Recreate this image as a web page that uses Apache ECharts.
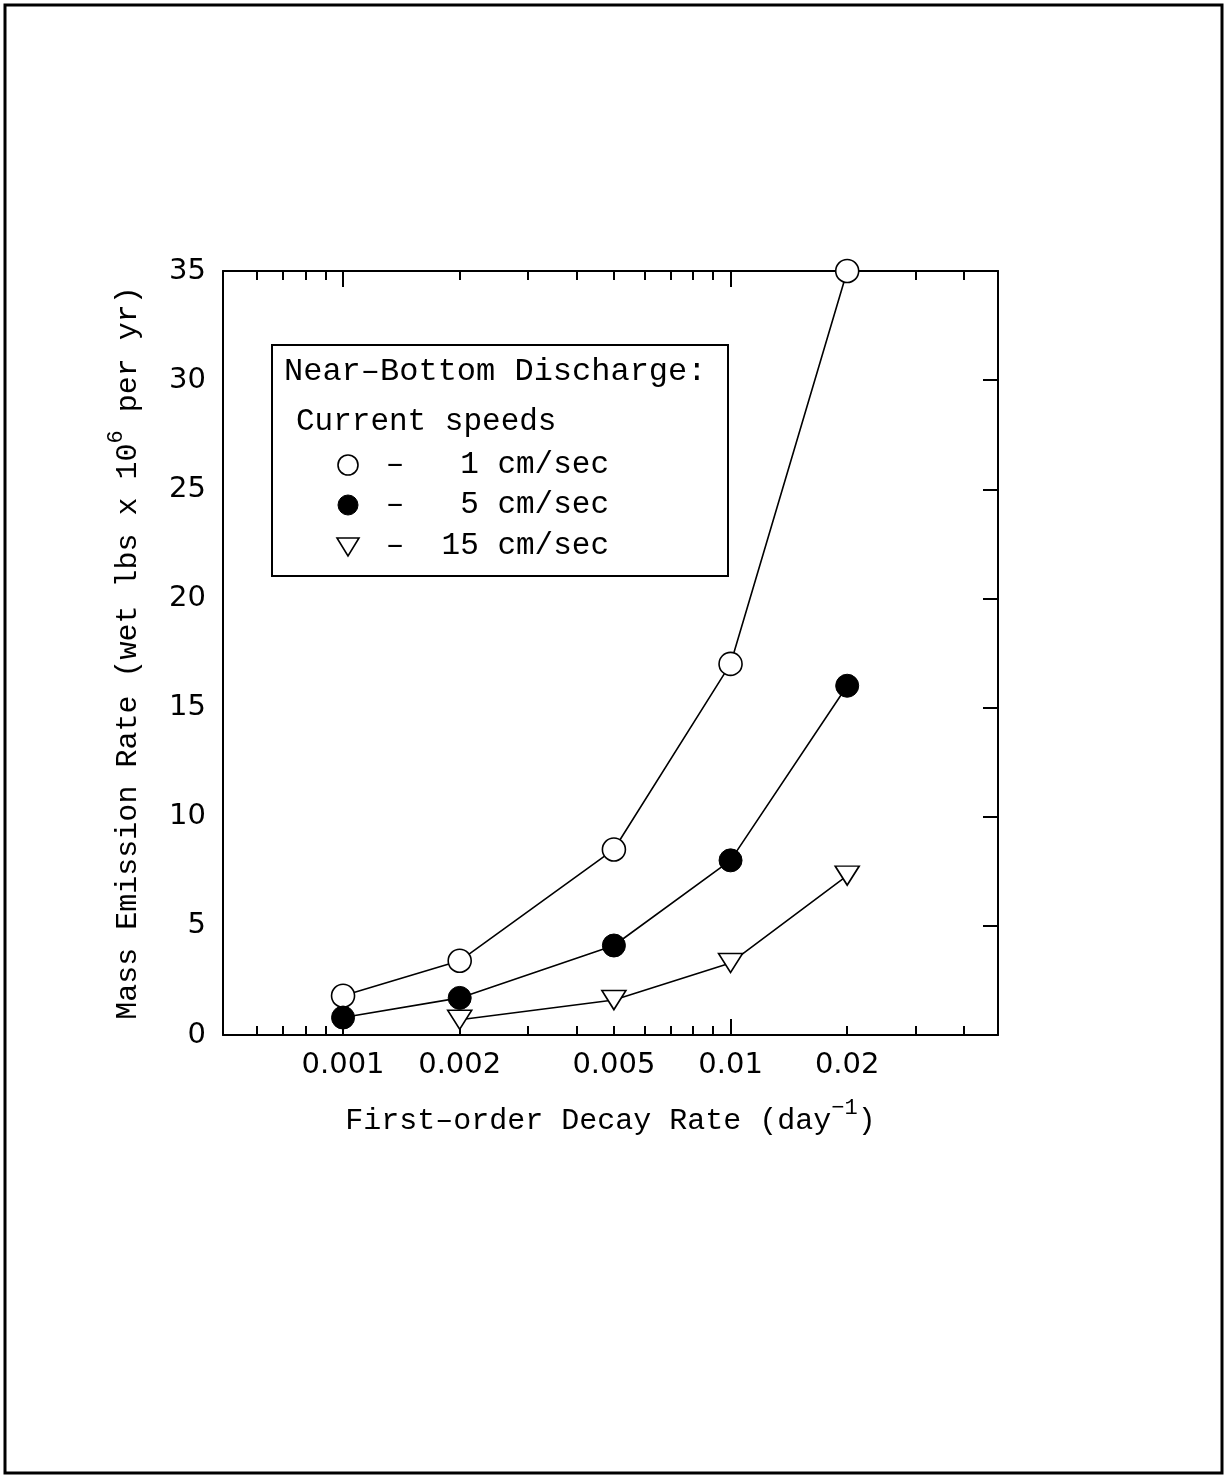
<!DOCTYPE html>
<html>
<head>
<meta charset="utf-8">
<style>
  html, body { margin: 0; padding: 0; background: #fff; }
  #chart { width: 1225px; height: 1476px; }
</style>
<script src="https://cdn.jsdelivr.net/npm/echarts@6.0.0/dist/echarts.min.js"></script>
</head>
<body>
<div id="chart"></div>
<script>
// ---- data ----
const decayRates = [0.001, 0.002, 0.005, 0.01, 0.02];
const speedNames = ['1 cm/sec', '5 cm/sec', '15 cm/sec'];
const speed1 = [1.8, 3.4, 8.5, 17.0, 35.0];
const speed5 = [0.8, 1.7, 4.1, 8.0, 16.0];
const speed15 = [null, 0.7, 1.6, 3.3, 7.3];
const xLabelValues = [0.001, 0.002, 0.005, 0.01, 0.02];
const xMajorTicks = [0.001, 0.01];
const xMinorTicks = [0.0006, 0.0007, 0.0008, 0.0009, 0.002, 0.003, 0.004, 0.005, 0.006, 0.007, 0.008, 0.009, 0.02, 0.03, 0.04];
const legendTitle = 'Near\u2013Bottom Discharge:';
const legendSub = 'Current speeds';

const MONO = '"Liberation Mono", "DejaVu Sans Mono", monospace';
const SANS = '"DejaVu Sans", sans-serif';

function pairs(ys) {
  const out = [];
  decayRates.forEach((x, i) => { if (ys[i] != null) out.push([x, ys[i]]); });
  return out;
}

const chart = echarts.init(document.getElementById('chart'), null, { renderer: 'canvas' });

const grid = { left: 223, top: 271, right: 227, bottom: 441 };
const lineBlack = { color: '#000', width: 2 };

function logAxis(pos, ticks, len, showLine, extra) {
  return Object.assign({
    type: 'log', logBase: 10, position: pos, min: 0.00049, max: 0.049,
    axisLine: { show: showLine, lineStyle: lineBlack },
    axisTick: { show: true, inside: true, length: len, customValues: ticks, lineStyle: { color: '#000', width: 2 } },
    axisLabel: { show: false },
    splitLine: { show: false },
    minorTick: { show: false }
  }, extra || {});
}

const option = {
  animation: false,
  backgroundColor: '#fff',
  grid: grid,
  xAxis: [
    logAxis('bottom', xMajorTicks, 16, true, {
      axisLabel: {
        show: true, customValues: xLabelValues, margin: 16,
        fontFamily: SANS, fontSize: 29, color: '#000',
        formatter: v => String(Number(Number(v).toPrecision(2)))
      },
      name: '{a|First\u2013order Decay Rate (day}{s|\u22121}{a|)}',
      nameLocation: 'middle', nameGap: 62,
      nameTextStyle: {
        rich: {
          a: { fontFamily: MONO, fontSize: 30, color: '#000' },
          s: { fontFamily: MONO, fontSize: 22, color: '#000', padding: [0, 0, 26, 0] }
        }
      }
    }),
    logAxis('bottom', xMinorTicks, 9, false),
    logAxis('top', xMajorTicks, 16, true),
    logAxis('top', xMinorTicks, 9, false)
  ],
  yAxis: [
    {
      type: 'value', position: 'left', min: 0, max: 35, interval: 5,
      axisLine: { show: true, lineStyle: lineBlack },
      axisTick: { show: false },
      axisLabel: { margin: 17, fontFamily: SANS, fontSize: 29, color: '#000' },
      splitLine: { show: false },
      name: '{a|Mass Emission Rate (wet lbs x 10}{s|6}{a| per yr)}',
      nameLocation: 'middle', nameRotate: 90, nameGap: 72,
      nameTextStyle: {
        rich: {
          a: { fontFamily: MONO, fontSize: 30, color: '#000' },
          s: { fontFamily: MONO, fontSize: 22, color: '#000', padding: [0, 0, 24, 0] }
        }
      }
    },
    {
      type: 'value', position: 'right', min: 0, max: 35, interval: 5,
      axisLine: { show: true, lineStyle: lineBlack },
      axisTick: { show: true, inside: true, length: 15, lineStyle: { color: '#000', width: 2 } },
      axisLabel: { show: false },
      splitLine: { show: false }
    }
  ],
  series: [
    {
      name: speedNames[0], type: 'line', xAxisIndex: 0, yAxisIndex: 0,
      data: pairs(speed1), symbol: 'circle', symbolSize: 23,
      lineStyle: { color: '#000', width: 1.6 },
      itemStyle: { color: '#fff', borderColor: '#000', borderWidth: 1.6 },
      z: 3
    },
    {
      name: speedNames[1], type: 'line', xAxisIndex: 0, yAxisIndex: 0,
      data: pairs(speed5), symbol: 'circle', symbolSize: 23,
      lineStyle: { color: '#000', width: 1.6 },
      itemStyle: { color: '#000', borderColor: '#000', borderWidth: 1 },
      z: 3
    },
    {
      name: speedNames[2], type: 'line', xAxisIndex: 0, yAxisIndex: 0,
      data: pairs(speed15), symbol: 'triangle', symbolRotate: 180, symbolSize: [24, 19],
      lineStyle: { color: '#000', width: 1.6 },
      itemStyle: { color: '#fff', borderColor: '#000', borderWidth: 1.6 },
      z: 3
    }
  ],
  graphic: [
    // page border
    { type: 'rect', shape: { x: 5, y: 5, width: 1217, height: 1468 }, style: { fill: 'none', stroke: '#000', lineWidth: 3 }, silent: true },
    // legend box
    { type: 'rect', shape: { x: 272, y: 345, width: 456, height: 231 }, style: { fill: '#fff', stroke: '#000', lineWidth: 2 }, z: 10 },
    { type: 'text', x: 284, y: 372, style: { text: legendTitle, font: '32px ' + MONO, fill: '#000', verticalAlign: 'middle' }, z: 11 },
    { type: 'text', x: 296, y: 422, style: { text: legendSub, font: '31px ' + MONO, fill: '#000', verticalAlign: 'middle' }, z: 11 },
    // legend rows
    { type: 'circle', shape: { cx: 348, cy: 465, r: 10 }, style: { fill: '#fff', stroke: '#000', lineWidth: 1.6 }, z: 11 },
    { type: 'circle', shape: { cx: 348, cy: 505, r: 10 }, style: { fill: '#000', stroke: '#000', lineWidth: 1 }, z: 11 },
    { type: 'polygon', shape: { points: [[337, 538], [359, 538], [348, 556]] }, style: { fill: '#fff', stroke: '#000', lineWidth: 1.6 }, z: 11 },
    { type: 'text', x: 395, y: 465, style: { text: '\u2013', font: '31px ' + MONO, fill: '#000', verticalAlign: 'middle', align: 'center' }, z: 11 },
    { type: 'text', x: 395, y: 505, style: { text: '\u2013', font: '31px ' + MONO, fill: '#000', verticalAlign: 'middle', align: 'center' }, z: 11 },
    { type: 'text', x: 395, y: 546, style: { text: '\u2013', font: '31px ' + MONO, fill: '#000', verticalAlign: 'middle', align: 'center' }, z: 11 },
    { type: 'text', x: 609, y: 465, style: { text: speedNames[0], font: '31px ' + MONO, fill: '#000', verticalAlign: 'middle', align: 'right' }, z: 11 },
    { type: 'text', x: 609, y: 505, style: { text: speedNames[1], font: '31px ' + MONO, fill: '#000', verticalAlign: 'middle', align: 'right' }, z: 11 },
    { type: 'text', x: 609, y: 546, style: { text: speedNames[2], font: '31px ' + MONO, fill: '#000', verticalAlign: 'middle', align: 'right' }, z: 11 }
  ]
};

chart.setOption(option);
</script>
</body>
</html>
